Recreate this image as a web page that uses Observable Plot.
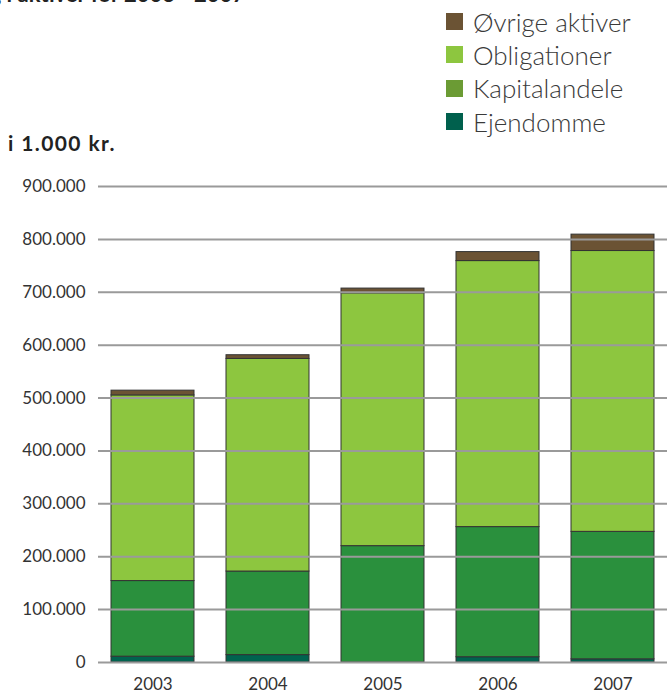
<!DOCTYPE html>
<html>
<head>
<meta charset="utf-8">
<script src="https://cdn.jsdelivr.net/npm/d3@7"></script>
<script src="https://cdn.jsdelivr.net/npm/@observablehq/plot@0.6"></script>
<style>
  html, body { margin: 0; padding: 0; background: #fff; }
  #wrap { position: relative; width: 667px; height: 693px; overflow: hidden; font-family: Lato, "Open Sans", sans-serif; color: #333; }
  #title { position: absolute; right: 422px; top: -20px; white-space: nowrap; font-weight: 700; font-size: 22px; color: #222; }
  #unit { position: absolute; left: 8px; top: 130px; font-weight: 700; font-size: 21px; letter-spacing: 1.4px; color: #222; }
  #legend { position: absolute; left: 446px; top: 5px; }
  .item { display: flex; align-items: center; height: 33.3px; }
  .sw { width: 17px; height: 17px; margin-right: 10px; flex: none; }
  .lab { font-size: 26px; font-weight: 300; color: #3a3a3a; white-space: nowrap; }
  #chart { position: absolute; left: 0; top: 0; }
</style>
</head>
<body>
<div id="wrap">
  <div id="title">Udvikling i aktiver for 2003 - 2007</div>
  <div id="legend"></div>
  <div id="unit">i 1.000 kr.</div>
  <div id="chart"></div>
</div>
<script>
// ---- data (i 1.000 kr.) ----
const years = ["2003", "2004", "2005", "2006", "2007"];
const ejendomme     = [11000, 14000, 0, 10000, 6000];
const kapitalandele = [143000, 158000, 220000, 246000, 241000];
const obligationer  = [351000, 402000, 478000, 503000, 531000];
const ovrige        = [9000, 7000, 9000, 17000, 31000];
const seriesNames = ["Ejendomme", "Kapitalandele", "Obligationer", "Øvrige aktiver"];
const seriesColors = ["#00634f", "#2a903d", "#8dc63f", "#6b5334"];
const legendNames = ["Øvrige aktiver", "Obligationer", "Kapitalandele", "Ejendomme"];
const legendColors = ["#6b5334", "#8dc63f", "#6b9b34", "#00604d"];
const yTicks = [0, 100000, 200000, 300000, 400000, 500000, 600000, 700000, 800000, 900000];

const seriesValues = [ejendomme, kapitalandele, obligationer, ovrige];
const data = [];
seriesNames.forEach((s, i) => {
  years.forEach((y, j) => data.push({year: y, series: s, value: seriesValues[i][j]}));
});

const locale = d3.formatLocale({decimal: ",", thousands: ".", grouping: [3], currency: ["", ""]});
const fmt = locale.format(",");

// legend
const leg = document.getElementById("legend");
legendNames.forEach((n, i) => {
  const it = document.createElement("div");
  it.className = "item";
  it.innerHTML = `<div class="sw" style="background:${legendColors[i]}"></div><div class="lab">${n}</div>`;
  leg.appendChild(it);
});

const chart = Plot.plot({
  width: 667,
  height: 693,
  marginTop: 186,
  marginBottom: 31,
  marginLeft: 98,
  marginRight: 0,
  style: {fontFamily: "Lato, 'Open Sans', sans-serif", fontSize: "17px", color: "#333", background: "transparent", overflow: "visible"},
  x: {domain: years, paddingInner: 0.28, paddingOuter: 0.095, label: null},
  y: {domain: [0, 900000], label: null},
  color: {domain: seriesNames, range: seriesColors},
  marks: [
    Plot.barY(data, Plot.stackY({x: "year", y: "value", fill: "series", z: "series", order: seriesNames, stroke: "#333", strokeWidth: 1})),
    Plot.ruleY(yTicks, {stroke: "#9a9a9a", strokeWidth: 2}),
    Plot.axisY({ticks: yTicks, tickSize: 0, tickPadding: 13, tickFormat: fmt, label: null, fill: "#333"}),
    Plot.axisX({tickSize: 0, tickPadding: 15, label: null, fill: "#333"})
  ]
});
document.getElementById("chart").appendChild(chart);
</script>
</body>
</html>
